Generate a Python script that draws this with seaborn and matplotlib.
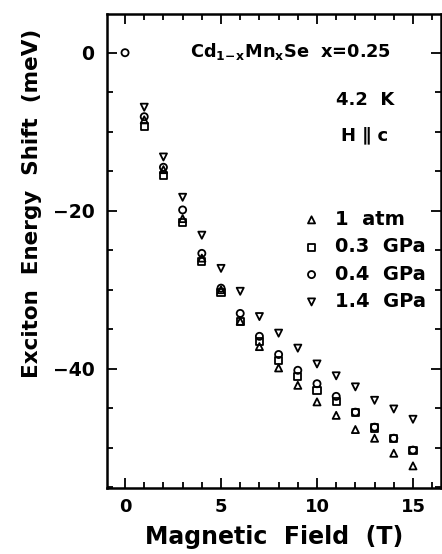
import numpy as np
import pandas as pd
import matplotlib
matplotlib.use("Agg")
import matplotlib.pyplot as plt
import seaborn as sns
from matplotlib.ticker import MultipleLocator

# Data (meV shift vs field in T)
# at 0 T only one symbol is visible, so the 0 T point is kept for 0.4 GPa only
field = [0, 1, 2, 3, 4, 5, 6, 7, 8, 9, 10, 11, 12, 13, 14, 15]
shift_1atm = [np.nan, -8.5, -14.8, -21.0, -26.0, -30.0, -34.0, -37.2, -39.9, -42.1, -44.2, -45.9, -47.7, -48.8, -50.7, -52.3]
shift_03gpa = [np.nan, -9.3, -15.5, -21.5, -26.4, -30.3, -34.0, -36.6, -39.0, -41.0, -42.8, -44.1, -45.6, -47.5, -48.8, -50.3]
shift_04gpa = [0, -8.1, -14.5, -19.9, -25.4, -29.8, -33.0, -35.9, -38.2, -40.2, -41.9, -43.5, -45.5, -47.4, -48.8, -50.3]
shift_14gpa = [np.nan, -6.9, -13.2, -18.3, -23.1, -27.3, -30.2, -33.4, -35.5, -37.4, -39.4, -40.9, -42.3, -44.0, -45.1, -46.4]

labels = ["1  atm", "0.3  GPa", "0.4  GPa", "1.4  GPa"]
markers = ["^", "s", "o", "v"]
series = [shift_1atm, shift_03gpa, shift_04gpa, shift_14gpa]

sns.set_style("ticks")
plt.rcParams["font.family"] = ["DejaVu Sans"]
plt.rcParams["font.weight"] = "bold"
plt.rcParams["text.color"] = "black"
plt.rcParams["axes.labelcolor"] = "black"
plt.rcParams["xtick.color"] = "black"
plt.rcParams["ytick.color"] = "black"
plt.rcParams["axes.edgecolor"] = "black"
plt.rcParams["mathtext.fontset"] = "custom"
plt.rcParams["mathtext.rm"] = "DejaVu Sans:bold"
plt.rcParams["mathtext.it"] = "DejaVu Sans:bold"
plt.rcParams["mathtext.bf"] = "DejaVu Sans:bold"

fig = plt.figure(figsize=(4.42, 5.54), dpi=100)
ax = fig.add_axes([107 / 442, 1 - 488 / 554, 334 / 442, 474 / 554])

for lab, mk, ys in zip(labels, markers, series):
    df = pd.DataFrame({"field": field, "shift": ys})
    sns.scatterplot(data=df, x="field", y="shift", marker=mk, color="k",
                    facecolor="none", edgecolor="k", s=26, linewidth=1.3,
                    label=lab, ax=ax)

ax.set_xlim(-0.94, 16.46)
ax.set_ylim(-55.1, 4.9)
ax.xaxis.set_major_locator(MultipleLocator(5))
ax.xaxis.set_minor_locator(MultipleLocator(1))
ax.yaxis.set_major_locator(MultipleLocator(20))
ax.yaxis.set_minor_locator(MultipleLocator(5))
ax.tick_params(which="both", direction="in", top=True, right=True, width=1.3)
ax.tick_params(which="major", length=7)
ax.tick_params(which="minor", length=4)
ax.tick_params(axis="x", labelsize=13, pad=7)
ax.tick_params(axis="y", labelsize=13.5, pad=9)
for sp in ax.spines.values():
    sp.set_linewidth(1.8)

ax.set_xlabel("Magnetic  Field  (T)", fontsize=17, fontweight="bold")
ax.set_ylabel("Exciton  Energy  Shift  (meV)", fontsize=15.5, fontweight="bold")
ax.xaxis.set_label_coords(0.5, -0.078)
ax.yaxis.set_label_coords(-0.195, 0.601)

ax.text(0.248, 0.92, "Cd$_{1\\!-\\!x}$Mn$_{x}$Se  x=0.25", transform=ax.transAxes,
        fontsize=12.8, fontweight="bold", va="center")
ax.text(0.685, 0.818, "4.2  K", transform=ax.transAxes, fontsize=13, fontweight="bold", va="center")
ax.text(0.70, 0.745, "H \u2225 c", transform=ax.transAxes, fontsize=13, fontweight="bold", va="center")

leg = ax.legend(loc="upper left", bbox_to_anchor=(0.56, 0.603), frameon=False,
                prop={"size": 14, "weight": "bold"}, handletextpad=0.7,
                labelspacing=0.43, borderaxespad=0, handlelength=1.0)

fig.savefig("out.png", dpi=100)
